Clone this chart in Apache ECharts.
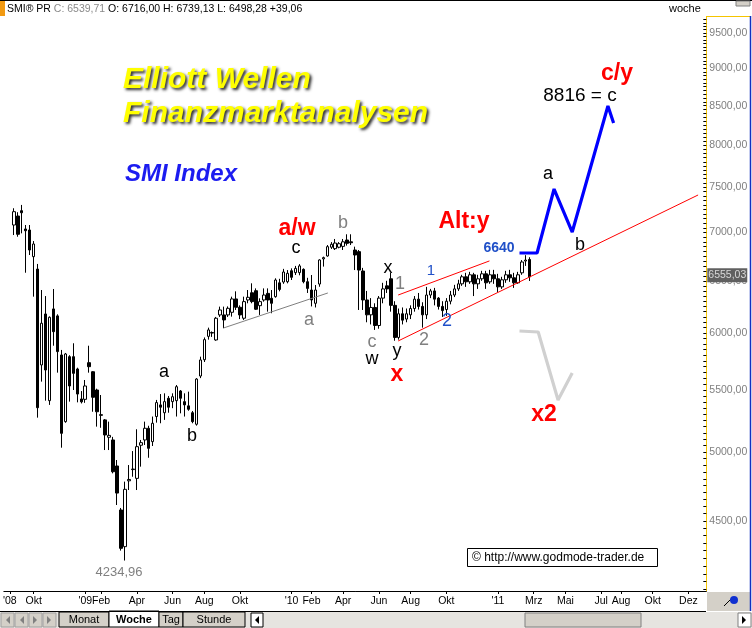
<!DOCTYPE html>
<html><head><meta charset="utf-8">
<script src="https://cdn.jsdelivr.net/npm/echarts@6/dist/echarts.min.js"></script>
<style>html,body{margin:0;padding:0;background:#fff}#c{width:752px;height:628px}</style>
</head><body><div id="c"></div>
<script>
// ---- data (weekly SMI candles) ----
const firstWeek = '2008-08-11';   // first category on the axis (Monday)
const weekTotal = 177;            // weeks shown on the axis
const firstCandle = '2008-08-25'; // week of first candle
// rows: [open, high, low, close]
const ohlc = [
[7080,7264,6972,7226],[7178,7220,6954,6980],[7237,7301,6990,7214],[7037,7080,6581,7018],
[7026,7080,6762,6814],[6745,6908,6344,6877],[6618,6670,5271,5352],[5714,6409,5570,6091],
[6178,6350,5410,5670],[5410,6155,5375,6147],[6226,6419,5885,6013],[6160,6175,5647,5832],
[5802,5847,5034,5146],[5239,5820,5230,5811],[5787,5800,5402,5533],[5787,5907,5499,5641],
[5679,5690,5396,5465],[5424,5490,5387,5400],[5421,5584,5392,5533],[5734,5885,5647,5699],
[5655,5660,5319,5438],[5499,5510,5199,5319],[5295,5457,5190,5290],[5253,5260,5016,5133],
[5115,5239,5016,5130],[5094,5118,4840,4852],[4895,4940,4611,4696],[4576,4590,4300,4315],
[4326,4779,4235,4723],[4785,4902,4718,4795],[4868,5008,4815,4872],[4803,5178,4718,5042],
[5053,5094,4890,5073],[5094,5239,5055,5186],[5186,5206,4957,5029],[5081,5280,5047,5226],
[5280,5416,5231,5394],[5375,5465,5226,5356],[5311,5471,5253,5402],[5430,5449,5311,5356],
[5402,5471,5348,5443],[5410,5541,5280,5527],[5491,5499,5306,5430],[5402,5471,5280,5375],
[5367,5485,5327,5339],[5311,5325,5226,5239],[5218,5600,5207,5592],[5618,5787,5600,5758],
[5760,5960,5740,5940],[5970,6050,5940,6029],[6000,6015,5965,6005],[5937,6150,5930,6138],
[6169,6248,6150,6216],[6169,6248,6045,6122],[6169,6250,6150,6232],[6194,6344,6153,6322],
[6322,6396,6216,6242],[6242,6260,6130,6169],[6138,6344,6122,6296],[6312,6409,6280,6338],
[6382,6475,6280,6296],[6402,6425,6216,6223],[6257,6328,6169,6296],[6312,6425,6296,6360],
[6376,6425,6200,6312],[6328,6409,6185,6280],[6344,6525,6334,6508],[6480,6520,6396,6415],
[6488,6620,6470,6588],[6491,6608,6475,6575],[6601,6625,6508,6535],[6582,6650,6558,6625],
[6582,6668,6555,6650],[6615,6625,6475,6491],[6491,6530,6380,6425],[6409,6558,6250,6312],
[6280,6458,6240,6409],[6468,6718,6441,6711],[6722,6745,6643,6735],[6752,6866,6745,6849],
[6843,6897,6825,6874],[6828,6930,6814,6887],[6843,6897,6832,6880],[6852,6930,6814,6900],
[6919,6980,6860,6884],[6900,6980,6866,6890],[6814,6849,6608,6762],[6797,6814,6216,6608],
[6598,6630,6216,6312],[6312,6400,6100,6170],[6170,6330,6080,6240],[6240,6280,6029,6070],
[6070,6350,6040,6330],[6330,6480,6280,6420],[6450,6500,6380,6420],[6520,6580,6200,6260],
[6260,6300,5930,5960],[5960,6230,5940,6180],[6180,6240,6080,6120],[6130,6230,6100,6180],
[6170,6260,6130,6230],[6230,6350,6200,6320],[6320,6380,6220,6250],[6250,6290,6050,6170],
[6170,6440,6130,6360],[6360,6420,6330,6400],[6400,6430,6260,6320],[6330,6340,6220,6250],
[6250,6300,6150,6210],[6220,6330,6160,6300],[6300,6400,6270,6360],[6360,6460,6340,6420],
[6420,6510,6400,6470],[6470,6560,6450,6540],[6540,6580,6440,6490],[6490,6590,6470,6560],
[6560,6580,6350,6470],[6470,6560,6420,6520],[6520,6600,6500,6570],[6570,6600,6420,6480],
[6490,6610,6470,6560],[6560,6610,6470,6520],[6520,6570,6390,6440],[6440,6540,6420,6510],
[6510,6600,6480,6560],[6560,6610,6490,6530],[6530,6580,6430,6480],[6480,6590,6470,6560],
[6580,6710,6560,6690],[6700,6760,6650,6710],[6716.00,6739.13,6498.28,6539.71]
];
const lastPrice = 6555.03;
const yMin = 4042, yMax = 9736;
const yTickValues = [4500,5000,5500,6000,6500,7000,7500,8000,8500,9000,9500];
const xTickLabels = [
['2008-08-18',"'08"],['2008-09-29','Okt'],['2008-12-29',"'09"],['2009-01-26','Feb'],
['2009-03-30','Apr'],['2009-06-01','Jun'],['2009-07-27','Aug'],['2009-09-28','Okt'],
['2009-12-28',"'10"],['2010-02-01','Feb'],['2010-03-29','Apr'],['2010-05-31','Jun'],
['2010-07-26','Aug'],['2010-09-27','Okt'],['2010-12-27',"'11"],['2011-02-28','Mrz'],
['2011-04-25','Mai'],['2011-06-27','Jul'],['2011-08-01','Aug'],['2011-09-26','Okt'],
['2011-11-28','Dez']
];
// annotation lines: [date, value]
const grayTrend    = [['2009-08-30',6047],['2010-03-02',6380]];
const upperChannel = [['2010-07-04',6360],['2010-12-12',6701]];
const lowerChannel = [['2010-07-04',5928],['2011-12-15',7413]];
const bluePath = [['2011-02-03',6783],['2011-03-06',6783],['2011-04-05',7481],['2011-05-07',7004],['2011-07-09',8495],['2011-07-19',8277]];
const grayPath = [['2011-02-03',6019],['2011-03-08',6010],['2011-04-12',5415],['2011-05-07',5644]];

// ---- build ----
const DAY = 864e5;
const base = Date.UTC(2008,7,11);
const cats = [];
for (let k = 0; k < weekTotal; k++) cats.push(new Date(base + k*7*DAY).toISOString().slice(0,10));
const off = cats.indexOf(firstCandle);
const candleData = ohlc.map((r,k) => [cats[off+k], r[0], r[3], r[2], r[1]]);
const labelMap = {}; xTickLabels.forEach(p => labelMap[p[0]] = p[1]);
const localBase = new Date(2008,7,11).getTime();
const tMin = localBase - 3.5*DAY, tMax = localBase + (weekTotal-1)*7*DAY + 3.5*DAY;
const minorTicks = []; for (let v = 4050; v <= 9700; v += 50) minorTicks.push(Math.log10(v));

const FF = 'Liberation Sans, Arial, sans-serif';
function txt(x,y,t,o){ o=o||{}; return {type:'text', x:x, y:y, z:50, style:Object.assign({text:t, fill:'#000', fontSize:18, fontFamily:FF, textAlign:'center', align:'center', textVerticalAlign:'middle', verticalAlign:'middle'}, o)}; }
function rect(x,y,w,h,fill,stroke,z){ return {type:'rect', shape:{x:x,y:y,width:w,height:h}, z:z||40, style:{fill:fill, stroke:stroke||null, lineWidth:1}}; }
function line(x1,y1,x2,y2,c,w){ return {type:'line', shape:{x1:x1,y1:y1,x2:x2,y2:y2}, z:45, style:{stroke:c, lineWidth:w||1}}; }

const titleShadow = {textShadowColor:'rgba(20,20,20,0.9)', textShadowBlur:3, textShadowOffsetX:2, textShadowOffsetY:2};
const graphics = [
  // header
  rect(0,0,752,1,'#000'),
  rect(0,1,5,15,'#f29a12'),
  {type:'text', x:7, y:9, z:50, style:{text:'{k|SMI® PR }{g|C: 6539,71}{k| O: 6716,00 H: 6739,13 L: 6498,28 +39,06}', fontFamily:FF, fontSize:10.5, verticalAlign:'middle', textVerticalAlign:'middle',
     rich:{k:{fill:'#000', color:'#000', fontSize:10.5, fontFamily:FF}, g:{fill:'#8a8a8a', color:'#8a8a8a', fontSize:10.5, fontFamily:FF}}}},
  txt(669,9,'woche',{fontSize:11, textAlign:'left', align:'left'}),
  rect(736,1,14,5,'#d4d0c8','#808080'),
  line(706,16.5,750,16.5,'#f5c400',1),
  line(750.5,16,750.5,611,'#1030c0',1.5),
  // titles
  txt(123,80,'Elliott Wellen',Object.assign({fill:'#ffff00', fontSize:30, fontWeight:'bold', fontStyle:'italic', textAlign:'left', align:'left'},titleShadow)),
  txt(123,114,'Finanzmarktanalysen',Object.assign({fill:'#ffff00', fontSize:30, fontWeight:'bold', fontStyle:'italic', textAlign:'left', align:'left'},titleShadow)),
  txt(125,174,'SMI Index',{fill:'#1c1cf0', fontSize:24, fontWeight:'bold', fontStyle:'italic', textAlign:'left', align:'left'}),
  // wave labels
  txt(297,229,'a/w',{fill:'#ff0000', fontSize:23, fontWeight:'bold'}),
  txt(296,248,'c'),
  txt(343,223,'b',{fill:'#808080'}),
  txt(309,320,'a',{fill:'#808080'}),
  txt(164,372,'a'),
  txt(192,436,'b'),
  txt(119,572,'4234,96',{fill:'#808080', fontSize:13}),
  txt(388,268,'x'),
  txt(400,284,'1',{fill:'#808080'}),
  txt(372,342,'c',{fill:'#808080'}),
  txt(372,359,'w'),
  txt(397,351,'y'),
  txt(397,375,'x',{fill:'#ff0000', fontSize:23, fontWeight:'bold'}),
  txt(424,340,'2',{fill:'#808080'}),
  txt(431,271,'1',{fill:'#2050c8', fontSize:15}),
  txt(447,321,'2',{fill:'#2050c8', fontSize:18}),
  txt(464,222,'Alt:y',{fill:'#ff0000', fontSize:23, fontWeight:'bold'}),
  txt(499,248,'6640',{fill:'#2050c8', fontSize:14, fontWeight:'bold'}),
  txt(548,174,'a'),
  txt(580,245,'b'),
  txt(580,96,'8816 = c',{fontSize:19}),
  txt(617,74,'c/y',{fill:'#ff0000', fontSize:23, fontWeight:'bold'}),
  txt(544,415,'x2',{fill:'#ff0000', fontSize:23, fontWeight:'bold'}),
  // copyright
  rect(467.5,548.5,190,18,'#fff','#000'),
  txt(472,558,'© http://www.godmode-trader.de',{fontSize:12, textAlign:'left', align:'left'}),
  // last price box
  // x-axis box
  line(0,611.5,706,611.5,'#000',1),
  rect(707,592,43,19,'#d4d0c8'),
  line(724,606,733,597,'#000',1),
  {type:'circle', shape:{cx:734,cy:600,r:4}, z:46, style:{fill:'#1030d0'}},
  // tab bar
  rect(0,612,752,16,'#e6e4e0'),
  rect(1,613,13,14,'#d4d0c8','#a0a0a0'), rect(15,613,13,14,'#d4d0c8','#a0a0a0'),
  rect(29,613,13,14,'#d4d0c8','#a0a0a0'), rect(43,613,13,14,'#d4d0c8','#a0a0a0'),
  {type:'polygon', shape:{points:[[10,616],[10,624],[6,620]]}, z:46, style:{fill:'#808080'}},
  {type:'polygon', shape:{points:[[24,616],[24,624],[20,620]]}, z:46, style:{fill:'#808080'}},
  {type:'polygon', shape:{points:[[33,616],[33,624],[37,620]]}, z:46, style:{fill:'#808080'}},
  {type:'polygon', shape:{points:[[47,616],[47,624],[51,620]]}, z:46, style:{fill:'#808080'}},
  rect(59,612,50,15,'#d4d0c8','#000'), txt(84,620,'Monat',{fontSize:11}),
  rect(109,611,50,16,'#ffffff','#000'), txt(134,620,'Woche',{fontSize:11, fontWeight:'bold'}),
  rect(159,612,24,15,'#d4d0c8','#000'), txt(171,620,'Tag',{fontSize:11}),
  rect(183,612,62,15,'#d4d0c8','#000'), txt(214,620,'Stunde',{fontSize:11}),
  rect(251,613,12,14,'#fff','#000'),
  {type:'polygon', shape:{points:[[259,616],[259,624],[255,620]]}, z:46, style:{fill:'#000'}},
  rect(525,613,116,14,'#d4d0c8','#808080'),
  rect(738,613,13,14,'#fff','#808080'),
  {type:'polygon', shape:{points:[[742,616],[742,624],[746,620]]}, z:46, style:{fill:'#000'}}
];

const lineSeries = (data, color, width) => ({type:'line', xAxisIndex:1, yAxisIndex:0, data:data, symbol:'none', silent:true, z:5,
  lineStyle:{color:color, width:width}, animation:false});

const option = {
  animation:false,
  backgroundColor:'#fff',
  grid:{left:-1.7, top:17, width:708, height:574, containLabel:false},
  xAxis:[
    {type:'category', data:cats, boundaryGap:true, position:'bottom',
     axisLine:{show:true, lineStyle:{color:'#000', width:1}},
     axisTick:{show:true, alignWithLabel:true, length:3, interval:(i,v)=>labelMap[v]!==undefined, lineStyle:{color:'#000'}},
     axisLabel:{show:true, interval:(i,v)=>labelMap[v]!==undefined, formatter:v=>labelMap[v]||'', color:'#000', fontSize:10.5, fontFamily:FF, margin:5},
     splitLine:{show:false}},
    {type:'time', min:tMin, max:tMax, show:false}
  ],
  yAxis:[
    {type:'log', logBase:10, min:yMin, max:yMax, position:'right',
     axisLine:{show:true, lineStyle:{color:'#f5c400', width:1}}, axisTick:{show:false}, axisLabel:{show:false}, splitLine:{show:false}},
    {type:'value', min:Math.log10(yMin), max:Math.log10(yMax), position:'right',
     axisLine:{show:false},
     axisTick:{show:true, inside:true, length:3, customValues:minorTicks, lineStyle:{color:'#000'}},
     axisLabel:{show:true, customValues:yTickValues.map(v=>Math.log10(v)), margin:3, color:'#808080', fontSize:10.5, fontFamily:FF,
       formatter:v=>Math.round(Math.pow(10,v)).toFixed(2).replace('.',',')},
     splitLine:{show:false}}
  ],
  series:[
    {type:'candlestick', xAxisIndex:0, yAxisIndex:0, data:candleData, encode:{x:0, y:[1,2,3,4]}, barWidth:3, z:3,
     itemStyle:{color:'#ffffff', color0:'#000000', borderColor:'#000000', borderColor0:'#000000', borderWidth:1},
     markLine:{symbol:'none', silent:true, animation:false, z:20, lineStyle:{color:'rgba(0,0,0,0)', width:0, opacity:1},
       data:[{yAxis:lastPrice}],
       label:{show:true, position:'end', distance:1, formatter:'6555,03', backgroundColor:'#606060', color:'#d8d8d8', fontSize:10.5, fontFamily:FF, padding:[2,1,1,1], opacity:1}}},
    lineSeries(grayTrend,'#808080',1),
    lineSeries(upperChannel,'#ff0000',1),
    lineSeries(lowerChannel,'#ff0000',1),
    lineSeries(bluePath,'#0000ff',3.2),
    lineSeries(grayPath,'#d0d0d0',3.2)
  ],
  graphic:{elements:graphics}
};
const chart = echarts.init(document.getElementById('c'));
chart.setOption(option);
</script></body></html>
